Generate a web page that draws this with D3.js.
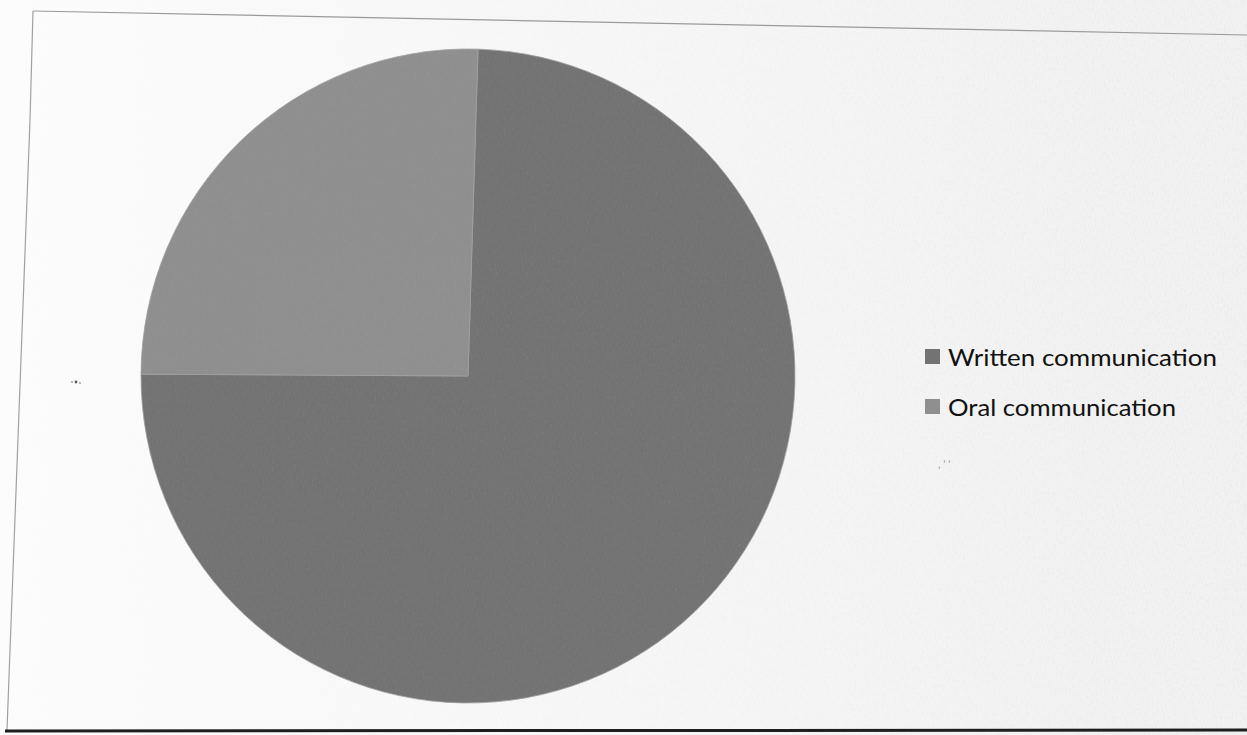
<!DOCTYPE html>
<html>
<head>
<meta charset="utf-8">
<script src="https://cdn.jsdelivr.net/npm/d3@7"></script>
<style>
  html, body { margin: 0; padding: 0; background: #fafafa; }
  svg { display: block; }
</style>
</head>
<body>
<svg id="chart" width="1247" height="735"></svg>
<script>
// Share of communication types
const categories = ["Written communication", "Oral communication"];
const shares = [74.6, 25.4];
const sliceColors = ["#737373", "#8f8f8f"];

const W = 1247, H = 735;
const svg = d3.select("#chart");
const defs = svg.append("defs");

// paper tone: bright on the left, a little greyer towards the right
const bg = defs.append("linearGradient").attr("id", "paper")
  .attr("x1", "0").attr("x2", "1").attr("y1", "0").attr("y2", "0");
bg.append("stop").attr("offset", "0").attr("stop-color", "#fcfcfc");
bg.append("stop").attr("offset", "0.55").attr("stop-color", "#f6f6f6");
bg.append("stop").attr("offset", "1").attr("stop-color", "#f1f1f1");

// light grain over the paper and slices
const grain = defs.append("filter").attr("id", "grain")
  .attr("x", 0).attr("y", 0).attr("width", "100%").attr("height", "100%");
grain.append("feTurbulence").attr("type", "fractalNoise")
  .attr("baseFrequency", "0.9 0.25").attr("numOctaves", 2).attr("seed", 7).attr("result", "n");
grain.append("feColorMatrix").attr("in", "n").attr("type", "matrix")
  .attr("values", "0 0 0 0 0.5  0 0 0 0 0.5  0 0 0 0 0.5  0 0 0 -1.1 0.6");

const grainMask = defs.append("linearGradient").attr("id", "grainFade")
  .attr("x1", "0").attr("x2", "1").attr("y1", "0").attr("y2", "0");
grainMask.append("stop").attr("offset", "0").attr("stop-color", "#fff").attr("stop-opacity", 0.05);
grainMask.append("stop").attr("offset", "0.6").attr("stop-color", "#fff").attr("stop-opacity", 0.45);
grainMask.append("stop").attr("offset", "1").attr("stop-color", "#fff").attr("stop-opacity", 0.8);
defs.append("mask").attr("id", "fadeMask")
  .append("rect").attr("width", W).attr("height", H).attr("fill", "url(#grainFade)");

svg.append("rect").attr("width", W).attr("height", H).attr("fill", "url(#paper)");
svg.append("rect").attr("width", W).attr("height", H)
  .attr("filter", "url(#grain)").attr("mask", "url(#fadeMask)").attr("opacity", 0.4);

// chart area border
const frame = svg.append("g").attr("fill", "none");
frame.append("path").attr("d", "M33,11 L1247,35").attr("stroke", "#9a9a9a").attr("stroke-width", 1.2);
frame.append("path").attr("d", "M33,11 L30,120 L7,730").attr("stroke", "#a0a0a0").attr("stroke-width", 1.2);
frame.append("path").attr("d", "M5,731 L1247,730").attr("stroke", "#1e1e1e").attr("stroke-width", 3);

// pie
const cx = 468, cy = 376, R = 327;
const tilt = 1.76 * Math.PI / 180;
const pie = d3.pie().sort(null).startAngle(tilt).endAngle(2 * Math.PI + tilt);
const arc = d3.arc().innerRadius(0).outerRadius(R);
const color = d3.scaleOrdinal().domain(categories).range(sliceColors);

const slices = pie(shares);
const pg = svg.append("g").attr("transform", `translate(${cx},${cy})`);
pg.selectAll("path").data(slices).join("path")
  .attr("d", arc)
  .attr("fill", (d, i) => color(categories[i]))
  .attr("stroke", "#a0a0a0").attr("stroke-width", 0.8);

// grain on the slices
const clip = defs.append("clipPath").attr("id", "pieClip");
clip.append("circle").attr("cx", cx).attr("cy", cy).attr("r", R);
svg.append("rect").attr("x", cx - R).attr("y", cy - R).attr("width", 2 * R).attr("height", 2 * R)
  .attr("clip-path", "url(#pieClip)").attr("filter", "url(#grain)").attr("opacity", 0.22);

// stray specks on the sheet
const specks = svg.append("g").attr("fill", "#555");
specks.append("circle").attr("cx", 72).attr("cy", 382).attr("r", 1.1).attr("opacity", 0.5);
specks.append("circle").attr("cx", 76).attr("cy", 382).attr("r", 1.4);
specks.append("circle").attr("cx", 80).attr("cy", 383).attr("r", 1.1).attr("opacity", 0.5);
svg.append("text").attr("x", 938).attr("y", 468)
  .attr("font-family", "Lato, sans-serif").attr("font-size", 11)
  .attr("fill", "#999").text(", ' '");

// legend
const lg = svg.append("g").attr("transform", "translate(925,0)");
const rows = lg.selectAll("g").data(categories).join("g")
  .attr("transform", (d, i) => `translate(0,${349 + i * 50})`);
rows.append("rect").attr("width", 15).attr("height", 15)
  .attr("fill", d => color(d));
const targetW = [269, 228];
rows.append("text")
  .attr("x", 23).attr("y", 17)
  .attr("font-family", "Lato, 'Open Sans', sans-serif")
  .attr("font-size", 23)
  .attr("fill", "#111")
  .text(d => d)
  .attr("textLength", (d, i) => targetW[i])
  .attr("lengthAdjust", "spacingAndGlyphs");
</script>
</body>
</html>
